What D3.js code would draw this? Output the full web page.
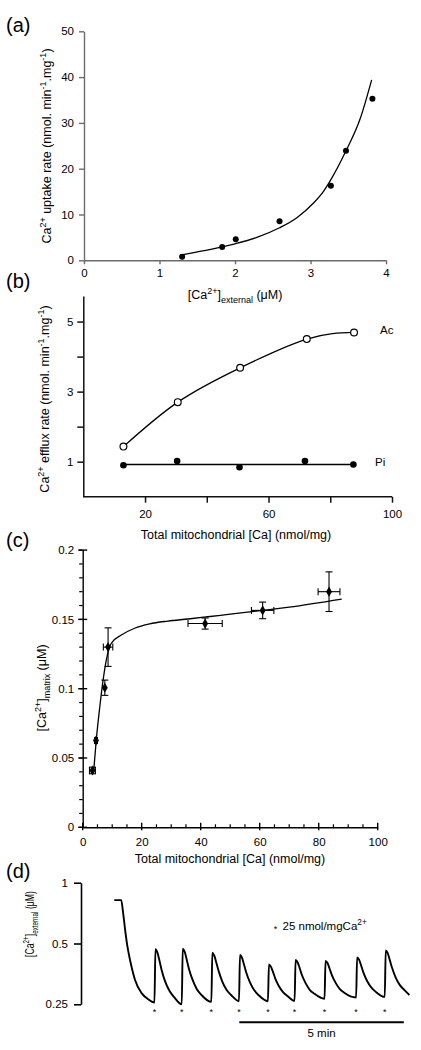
<!DOCTYPE html>
<html><head><meta charset="utf-8">
<script src="https://cdn.jsdelivr.net/npm/d3@7"></script>
<style>
body{margin:0;background:#fff;}
svg{display:block;font-family:"Liberation Sans",Arial,Helvetica,sans-serif;}
</style></head>
<body>
<svg id="fig" width="421" height="1050"></svg>
<script>
// ---------- DATA ----------
// (a) uptake rate vs external Ca
const aX = [1.30, 1.83, 2.01, 2.59, 3.27, 3.47, 3.82];
const aY = [0.8, 2.9, 4.6, 8.5, 16.3, 23.9, 35.3];
const aFitX = [1.29, 1.71, 2.00, 2.29, 2.59, 2.82, 3.04, 3.17, 3.27, 3.47, 3.66, 3.81];
const aFitY = [1.2, 2.5, 3.6, 5.0, 7.1, 9.3, 12.5, 15.0, 17.6, 23.9, 31.0, 39.4];
const aXTicks = [0, 1, 2, 3, 4];
const aYTicks = [0, 10, 20, 30, 40, 50];

// (b) efflux rate vs total mitochondrial Ca
const bAcX = [13.0, 30.6, 50.8, 72.4, 87.7];
const bAcY = [1.43, 2.70, 3.68, 4.50, 4.69];
const bPiX = [13.0, 30.4, 50.6, 71.8, 87.5];
const bPiY = [0.90, 1.02, 0.84, 1.02, 0.92];
const bPiFitX = [13.0, 87.5];
const bPiFitY = [0.92, 0.92];
const bXTicks = [20, 40, 60, 80, 100];
const bXLabels = ["20", "", "60", "", "100"];
const bYTicks = [1, 2, 3, 4, 5];
const bYLabels = ["1", "", "3", "", "5"];

// (c) matrix Ca vs total mitochondrial Ca
const cX = [3.3, 4.5, 7.5, 8.6, 41.5, 61.0, 83.5];
const cY = [0.041, 0.0626, 0.1007, 0.130, 0.147, 0.1565, 0.170];
const cXErr = [1.0, 0.5, 0.0, 1.6, 5.8, 3.8, 3.7];
const cYErr = [0.0024, 0.0, 0.0055, 0.0139, 0.004, 0.006, 0.0143];
const cFitX = [3.7, 4.6, 5.8, 6.9, 8.0, 9.7, 13.1, 17.6, 22.7, 28.9, 35.7, 42.4, 50, 61, 70, 87.8];
const cFitY = [0.040, 0.063, 0.087, 0.106, 0.1207, 0.1328, 0.1387, 0.1436, 0.1468, 0.1488, 0.1503, 0.1519, 0.1538, 0.1565, 0.1589, 0.1647];
const cXTicks = [0, 20, 40, 60, 80, 100];
const cYTicks = [0, 0.05, 0.1, 0.15, 0.2];

// (d) external Ca trace (time in min, conc in µM)
const dTime = [0, 0.21, 0.27, 0.33, 0.40, 0.50, 0.63, 0.83, 1.03, 1.22,
  1.25, 1.31, 1.37, 1.44, 1.55, 1.68, 1.82, 2.05,
  2.08, 2.14, 2.20, 2.27, 2.38, 2.51, 2.65, 2.95,
  2.98, 3.04, 3.10, 3.17, 3.28, 3.41, 3.55, 3.79,
  3.82, 3.88, 3.94, 4.01, 4.12, 4.25, 4.39, 4.67,
  4.70, 4.76, 4.82, 4.89, 5.00, 5.13, 5.27, 5.48,
  5.51, 5.57, 5.63, 5.70, 5.81, 5.94, 6.08, 6.39,
  6.42, 6.48, 6.54, 6.61, 6.72, 6.85, 6.99, 7.35,
  7.38, 7.44, 7.50, 7.57, 7.68, 7.81, 7.95, 8.22,
  8.25, 8.31, 8.37, 8.44, 8.55, 8.68, 8.82, 8.97];
const dConc = [0.82, 0.82, 0.705, 0.583, 0.482, 0.399, 0.33, 0.284, 0.265, 0.255,
  0.468, 0.451, 0.413, 0.369, 0.323, 0.291, 0.271, 0.250,
  0.471, 0.455, 0.417, 0.374, 0.330, 0.297, 0.278, 0.257,
  0.450, 0.435, 0.403, 0.366, 0.325, 0.295, 0.278, 0.259,
  0.439, 0.426, 0.395, 0.359, 0.322, 0.294, 0.277, 0.259,
  0.394, 0.384, 0.363, 0.336, 0.308, 0.287, 0.274, 0.260,
  0.415, 0.404, 0.380, 0.350, 0.319, 0.295, 0.282, 0.266,
  0.410, 0.400, 0.377, 0.350, 0.321, 0.298, 0.285, 0.270,
  0.427, 0.416, 0.390, 0.360, 0.327, 0.303, 0.288, 0.272,
  0.462, 0.448, 0.416, 0.380, 0.340, 0.311, 0.294, 0.278];
const dAdditions = [1.22, 2.05, 2.95, 3.79, 4.67, 5.48, 6.39, 7.35, 8.22];
const dYTicks = [1, 0.5, 0.25];
const dYLabels = ["1", "0.5", "0.25"];
const dScaleBar = [3.80, 8.80];

// ---------- DRAW ----------
const svg = d3.select("#fig");
const FS = 11.5;

function rich(text, parts, size) {
  let shift = 0;
  parts.forEach(([t, k]) => {
    const target = k === "sup" ? -size * 0.42 : k === "sub" ? size * 0.28 : 0;
    text.append("tspan").attr("dy", target - shift)
      .attr("font-size", k === "n" ? size : size * 0.72).text(t);
    shift = target;
  });
}
function styleAxis(g, color, w) {
  g.selectAll("path.domain").attr("stroke", color).attr("stroke-width", w);
  g.selectAll(".tick line").attr("stroke", color).attr("stroke-width", w);
  g.selectAll(".tick text").attr("fill", "#000").attr("font-size", FS)
    .attr("font-family", "Liberation Sans, Arial, sans-serif");
}
function panelLabel(t, x, y) {
  svg.append("text").attr("x", x).attr("y", y).attr("font-size", 20).text(t);
}

// ----- (a) -----
{
  const x = d3.scaleLinear().domain([0, 4]).range([84, 386]);
  const y = d3.scaleLinear().domain([0, 50]).range([260.3, 31.3]);
  const gx = svg.append("g").attr("transform", `translate(0,${y(0)})`)
    .call(d3.axisBottom(x).tickValues(aXTicks).tickSize(4).tickSizeOuter(0).tickPadding(5).tickFormat(d3.format("d")));
  const gy = svg.append("g").attr("transform", `translate(${x(0)},0)`)
    .call(d3.axisLeft(y).tickValues(aYTicks).tickSize(5).tickSizeOuter(0).tickPadding(5));
  styleAxis(gx, "#6b6b6b", 1.4); styleAxis(gy, "#6b6b6b", 1.4);
  const line = d3.line().x((d, i) => x(aFitX[i])).y(d => y(d)).curve(d3.curveMonotoneX);
  svg.append("path").attr("d", line(aFitY)).attr("fill", "none").attr("stroke", "#000").attr("stroke-width", 1.3);
  svg.append("g").selectAll("circle").data(aY).join("circle")
    .attr("cx", (d, i) => x(aX[i])).attr("cy", d => y(d)).attr("r", 3).attr("fill", "#000");
  rich(svg.append("text").attr("text-anchor", "middle")
    .attr("transform", `translate(51,146) rotate(-90)`),
    [["Ca", "n"], ["2+", "sup"], [" uptake rate (nmol. min", "n"], ["-1", "sup"], [".mg", "n"], ["-1", "sup"], [")", "n"]], 12.5);
  rich(svg.append("text").attr("text-anchor", "middle").attr("x", 235).attr("y", 299),
    [["[Ca", "n"], ["2+", "sup"], ["]", "n"], ["external", "sub"], [" (\u03BCM)", "n"]], 12.5);
  panelLabel("(a)", 6, 32);
}

// ----- (b) -----
{
  const x = d3.scaleLinear().domain([0, 100]).range([83.3, 392]);
  const y = d3.scaleLinear().domain([0, 5.73]).range([496.7, 296]);
  const gx = svg.append("g").attr("transform", `translate(0,${y(0)})`)
    .call(d3.axisBottom(x).tickValues(bXTicks).tickSize(6).tickSizeOuter(0).tickPadding(7)
      .tickFormat((d, i) => bXLabels[i]));
  gx.select("path.domain").attr("d", `M${x(0)},0H${x(100)}`);
  const gy = svg.append("g").attr("transform", `translate(${x(0)},0)`)
    .call(d3.axisLeft(y).tickValues(bYTicks).tickSize(6).tickSizeOuter(0).tickPadding(4)
      .tickFormat((d, i) => bYLabels[i]));
  styleAxis(gx, "#111", 1.5); styleAxis(gy, "#111", 1.5);
  const acLine = d3.line().x((d, i) => x(bAcX[i])).y(d => y(d)).curve(d3.curveNatural);
  svg.append("path").attr("d", acLine(bAcY)).attr("fill", "none").attr("stroke", "#000").attr("stroke-width", 1.3);
  const piLine = d3.line().x((d, i) => x(bPiFitX[i])).y(d => y(d));
  svg.append("path").attr("d", piLine(bPiFitY)).attr("fill", "none").attr("stroke", "#000").attr("stroke-width", 1.3);
  svg.append("g").selectAll("circle").data(bAcY).join("circle")
    .attr("cx", (d, i) => x(bAcX[i])).attr("cy", d => y(d)).attr("r", 3.4)
    .attr("fill", "#fff").attr("stroke", "#000").attr("stroke-width", 1.2);
  svg.append("g").selectAll("circle").data(bPiY).join("circle")
    .attr("cx", (d, i) => x(bPiX[i])).attr("cy", d => y(d)).attr("r", 3.3).attr("fill", "#000");
  svg.append("text").attr("x", 380).attr("y", 334).attr("font-size", FS).text("Ac");
  svg.append("text").attr("x", 375).attr("y", 466).attr("font-size", FS).text("Pi");
  rich(svg.append("text").attr("text-anchor", "middle")
    .attr("transform", `translate(49,399) rotate(-90)`),
    [["Ca", "n"], ["2+", "sup"], [" efflux rate (nmol. min", "n"], ["-1", "sup"], [".mg", "n"], ["-1", "sup"], [")", "n"]], 12.5);
  svg.append("text").attr("text-anchor", "middle").attr("x", 236).attr("y", 539).attr("font-size", 12.5)
    .text("Total mitochondrial [Ca] (nmol/mg)");
  panelLabel("(b)", 6, 288);
}

// ----- (c) -----
{
  const x = d3.scaleLinear().domain([0, 100]).range([82.7, 377.7]);
  const y = d3.scaleLinear().domain([0, 0.2]).range([827.3, 550.1]);
  const gx = svg.append("g").attr("transform", `translate(0,${y(0)})`)
    .call(d3.axisBottom(x).tickValues(cXTicks).tickSize(0).tickSizeOuter(0).tickPadding(11));
  const gy = svg.append("g").attr("transform", `translate(${x(0)},0)`)
    .call(d3.axisLeft(y).tickValues(cYTicks).tickSize(0).tickSizeOuter(0).tickPadding(8.5)
      .tickFormat(d => d === 0 ? "0" : String(+d.toFixed(2))));
  styleAxis(gx, "#000", 1.4); styleAxis(gy, "#000", 1.4);
  const minorX = d3.range(0, 101, 5), minorY = d3.range(0, 0.2001, 0.01);
  gx.selectAll("line.mn").data(minorX).join("line")
    .attr("x1", d => x(d)).attr("x2", d => x(d)).attr("y1", 0).attr("y2", d => cXTicks.includes(d) ? 0 : -3)
    .attr("stroke", "#000").attr("stroke-width", 1.2);
  gx.selectAll("line.mj").data(cXTicks).join("line")
    .attr("x1", d => x(d)).attr("x2", d => x(d)).attr("y1", -4.5).attr("y2", 3)
    .attr("stroke", "#000").attr("stroke-width", 1.4);
  gy.selectAll("line.mn").data(minorY).join("line")
    .attr("y1", d => y(d)).attr("y2", d => y(d)).attr("x1", -3.5).attr("x2", 0)
    .attr("stroke", "#000").attr("stroke-width", 1.2);
  gy.selectAll("line.mj").data(cYTicks).join("line")
    .attr("y1", d => y(d)).attr("y2", d => y(d)).attr("x1", -4.5).attr("x2", 4.5)
    .attr("stroke", "#000").attr("stroke-width", 1.4);
  const fit = d3.line().x((d, i) => x(cFitX[i])).y(d => y(d)).curve(d3.curveMonotoneX);
  svg.append("path").attr("d", fit(cFitY)).attr("fill", "none").attr("stroke", "#000").attr("stroke-width", 1.3);
  const eg = svg.append("g").attr("stroke", "#000").attr("stroke-width", 1.1);
  const cap = 3.5;
  cY.forEach((v, i) => {
    const px = x(cX[i]), py = y(v);
    if (cYErr[i] > 0) {
      const y1 = y(v - cYErr[i]), y2 = y(v + cYErr[i]);
      eg.append("line").attr("x1", px).attr("x2", px).attr("y1", y1).attr("y2", y2);
      eg.append("line").attr("x1", px - cap).attr("x2", px + cap).attr("y1", y1).attr("y2", y1);
      eg.append("line").attr("x1", px - cap).attr("x2", px + cap).attr("y1", y2).attr("y2", y2);
    }
    if (cXErr[i] > 0) {
      const x1 = x(cX[i] - cXErr[i]), x2 = x(cX[i] + cXErr[i]);
      eg.append("line").attr("x1", x1).attr("x2", x2).attr("y1", py).attr("y2", py);
      eg.append("line").attr("x1", x1).attr("x2", x1).attr("y1", py - cap).attr("y2", py + cap);
      eg.append("line").attr("x1", x2).attr("x2", x2).attr("y1", py - cap).attr("y2", py + cap);
    }
  });
  svg.append("g").selectAll("path").data(cY).join("path")
    .attr("d", d3.symbol(d3.symbolDiamond, 30))
    .attr("transform", (d, i) => `translate(${x(cX[i])},${y(d)})`).attr("fill", "#000");
  rich(svg.append("text").attr("text-anchor", "middle")
    .attr("transform", `translate(46,688) rotate(-90)`),
    [["[Ca", "n"], ["2+", "sup"], ["]", "n"], ["matrix", "sub"], [" (\u03BCM)", "n"]], 12.5);
  svg.append("text").attr("text-anchor", "middle").attr("x", 230).attr("y", 863).attr("font-size", 12.5)
    .text("Total mitochondrial [Ca] (nmol/mg)");
  panelLabel("(c)", 6, 547);
}

// ----- (d) -----
{
  const x = d3.scaleLinear().domain([0, 9]).range([114.3, 410.4]);
  const y = d3.scaleLog().base(2).domain([0.25, 1]).range([1004.3, 882.7]);
  const gy = svg.append("g").attr("transform", "translate(81,0)")
    .call(d3.axisLeft(y).tickValues(dYTicks).tickSize(7).tickSizeOuter(0).tickPadding(6)
      .tickFormat((d, i) => dYLabels[i]));
  styleAxis(gy, "#000", 1.6);
  const tr = d3.line().x((d, i) => x(dTime[i])).y(d => y(d)).curve(d3.curveMonotoneX);
  svg.append("path").attr("d", tr(dConc)).attr("fill", "none").attr("stroke", "#000")
    .attr("stroke-width", 1.9).attr("stroke-linejoin", "round");
  svg.append("g").selectAll("text").data(dAdditions).join("text")
    .attr("x", d => x(d)).attr("y", 1015).attr("text-anchor", "middle").attr("font-size", 9).text("*");
  svg.append("line").attr("x1", x(dScaleBar[0])).attr("x2", x(dScaleBar[1]))
    .attr("y1", 1022.3).attr("y2", 1022.3).attr("stroke", "#000").attr("stroke-width", 2);
  svg.append("text").attr("x", (x(dScaleBar[0]) + x(dScaleBar[1])) / 2).attr("y", 1037)
    .attr("text-anchor", "middle").attr("font-size", FS).text("5 min");
  svg.append("text").attr("x", 275.5).attr("y", 932).attr("text-anchor", "middle").attr("font-size", 9).text("*");
  rich(svg.append("text").attr("x", 282.5).attr("y", 930),
    [["25 nmol/mgCa", "n"], ["2+", "sup"]], 11.5);
  const dl = svg.append("text").attr("text-anchor", "middle");
  rich(dl, [["[Ca", "n"], ["2+", "sup"], ["]", "n"], ["external", "sub"], [" (\u03BCM)", "n"]], 12.5);
  const w = dl.node().getBBox().width || 100;
  dl.attr("transform", `translate(34,924) rotate(-90) scale(${66 / w},1)`);
  panelLabel("(d)", 6, 878);
}
</script>
</body></html>
